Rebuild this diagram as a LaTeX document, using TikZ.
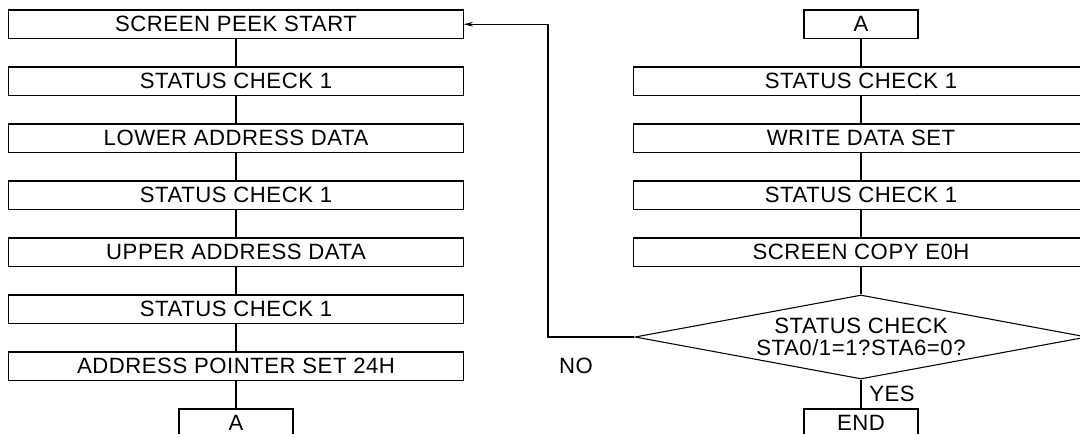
\documentclass[tikz,border=0pt]{standalone}
\usepackage{fontspec}
\newfontfamily\cadfont{Liberation Sans}[LetterSpace=2.5]
\usetikzlibrary{shapes.geometric,arrows.meta}
\begin{document}
\begin{tikzpicture}[x=0.75pt,y=-0.75pt,
  every node/.style={font=\cadfont\fontsize{16.6pt}{14.8pt}\selectfont},
  procbox/.style={draw,line width=0.8pt,minimum width=340.7pt,minimum height=21.4pt,inner sep=0pt},
  smallbox/.style={draw,line width=0.8pt,minimum width=85.5pt,minimum height=21.4pt,inner sep=0pt},
  decision/.style={draw,line width=0.8pt,diamond,aspect=5.38,minimum width=339pt,minimum height=63pt,inner sep=0pt,align=center,font=\cadfont\fontsize{16.6pt}{16.6pt}\selectfont},
  link/.style={line width=0.8pt},
  backarrow/.style={line width=0.8pt,-{Stealth[length=7pt,width=3.5pt]}},
  lbl/.style={inner sep=0pt}]
\clip (0,0) rectangle (1080,434);
% left column
\node[procbox] (l0) at (236,24.25) {SCREEN PEEK START};
\node[procbox] (l1) at (236,81.25) {STATUS CHECK 1};
\node[procbox] (l2) at (236,138.25) {LOWER ADDRESS DATA};
\node[procbox] (l3) at (236,195.25) {STATUS CHECK 1};
\node[procbox] (l4) at (236,252.25) {UPPER ADDRESS DATA};
\node[procbox] (l5) at (236,309.25) {STATUS CHECK 1};
\node[procbox] (l6) at (236,366.25) {ADDRESS POINTER SET 24H};
\node[smallbox] (la) at (236,423.25) {A};
\foreach \a/\b in {l0/l1,l1/l2,l2/l3,l3/l4,l4/l5,l5/l6,l6/la}
  \draw[link] (\a.south) -- (\b.north);
% right column
\node[smallbox] (ra) at (861,24.25) {A};
\node[procbox] (r1) at (861,81.25) {STATUS CHECK 1};
\node[procbox] (r2) at (861,138.25) {WRITE DATA SET};
\node[procbox] (r3) at (861,195.25) {STATUS CHECK 1};
\node[procbox] (r4) at (861,252.25) {SCREEN COPY E0H};
\node[decision] (dec) at (861,337) {STATUS CHECK\\STA0/1=1?STA6=0?};
\node[smallbox] (end) at (861,423.25) {END};
\foreach \a/\b in {ra/r1,r1/r2,r2/r3,r3/r4,r4/dec}
  \draw[link] (\a.south) -- (\b.north);
\draw[link] (dec.south) -- (end.north);
% loop back
\coordinate (turn) at (548,337);
\draw[backarrow] (dec.west) -- (turn) |- (l0.east);
\node[lbl] (no) at (576,366) {NO};
\node[lbl,anchor=west] (yes) at (869,394) {YES};
\end{tikzpicture}
\end{document}
